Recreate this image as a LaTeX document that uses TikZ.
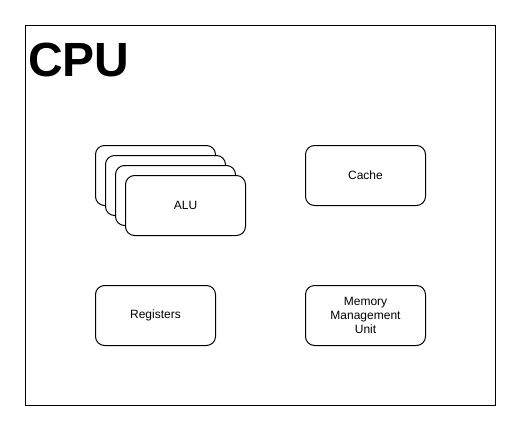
\documentclass[tikz,border=0pt]{standalone}
\usepackage{fontspec}
\setmainfont{Liberation Sans}
\begin{document}
\begin{tikzpicture}[x=1pt,y=-1pt,
  box/.style={draw,line width=1pt,rounded corners=9pt,fill=white,minimum width=120pt,minimum height=60pt,inner sep=0pt,font=\fontsize{12}{14}\selectfont,align=center},
  frame/.style={draw,line width=1pt}]
\useasboundingbox (0,0) rectangle (521,431);
\draw[frame] (25.5,25.5) rectangle (495.5,405.5);
\node[anchor=base west,inner sep=0pt,font=\fontsize{48}{48}\selectfont\bfseries] (cpu) at (28,76) {CPU};
\node[box] (alu1) at (155.5,175.5) {};
\node[box] (alu2) at (165.5,185.5) {};
\node[box] (alu3) at (175.5,195.5) {};
\node[box] (alu) at (185.5,205.5) {ALU};
\node[box] (cache) at (365.5,175.5) {Cache};
\node[box] (reg) at (155.5,315.5) {Registers};
\node[box] (mmu) at (365.5,315.5) {Memory\\Management\\Unit};
\end{tikzpicture}
\end{document}
